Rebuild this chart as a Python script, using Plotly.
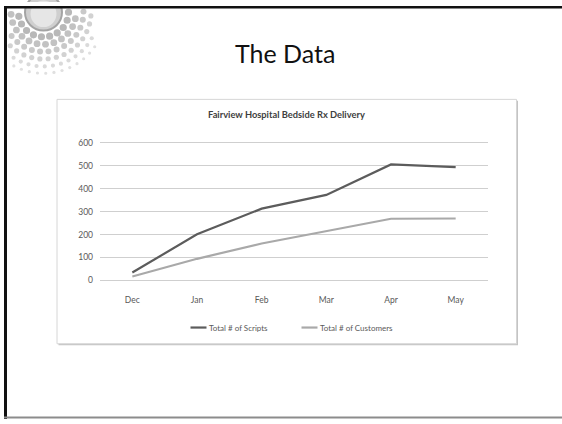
import math
import plotly.graph_objects as go

months = ["Dec", "Jan", "Feb", "Mar", "Apr", "May"]
scripts = [34, 201, 313, 373, 506, 494]
customers = [17, 94, 161, 216, 269, 270]
series_names = ["Total # of Scripts", "Total # of Customers"]
series_colors = ["#5c5c5c", "#a9a9a9"]
y_ticks = [0, 100, 200, 300, 400, 500, 600]

W, H = 562, 424
def px(x):
    return x / W
def py(y):
    return 1 - y / H

CHART_FONT = "Lato, Open Sans, sans-serif"

fig = go.Figure()
for vals, name, col in zip([scripts, customers], series_names, series_colors):
    fig.add_trace(go.Scatter(x=months, y=vals, mode="lines", name=name,
                             line=dict(color=col, width=2.2), showlegend=False))

shapes = []
# chart box shadow + box
shapes.append(dict(type="rect", xref="paper", yref="paper", layer="below",
                   x0=px(58.5), x1=px(518), y0=py(349), y1=py(100.5),
                   fillcolor="#c4c4c4", line=dict(width=0)))
shapes.append(dict(type="rect", xref="paper", yref="paper", layer="below",
                   x0=px(57), x1=px(516.5), y0=py(347.5), y1=py(99),
                   fillcolor="white", line=dict(color="#d6d6d6", width=1)))

# logo: big circle + dot rings
cx, cy = 43.5, 10.5
for i, (r, dr, col) in enumerate([(25, 3.6, "#b8b8b8"), (32.5, 3.4, "#c2c2c2"), (40, 3.0, "#c9c9c9"),
                                   (47.5, 2.6, "#d2d2d2"), (55, 2.1, "#dadada"), (62, 1.6, "#e0e0e0")]):
    n = int(2 * math.pi * r / 8.2)
    for k in range(n):
        a = 2 * math.pi * k / n + i * 0.2
        x = cx + r * math.cos(a)
        y = cy + r * math.sin(a)
        if x - dr < 7.5 or y - dr < 6.5 or x > 95:
            continue
        shapes.append(dict(type="circle", xref="paper", yref="paper", layer="below",
                           x0=px(x - dr), x1=px(x + dr), y0=py(y + dr), y1=py(y - dr),
                           fillcolor=col, line=dict(width=0)))
shapes.append(dict(type="circle", xref="paper", yref="paper", layer="below",
                   x0=px(cx - 18.5), x1=px(cx + 18.5), y0=py(cy + 18.5), y1=py(cy - 18.5),
                   fillcolor="#cfcfcf", line=dict(color="#a4a4a4", width=2)))
shapes.append(dict(type="circle", xref="paper", yref="paper", layer="below",
                   x0=px(cx - 13), x1=px(cx + 13), y0=py(cy + 15), y1=py(cy - 12),
                   fillcolor="#e6e6e6", line=dict(width=0)))
# white cover above top border for logo overflow
shapes.append(dict(type="rect", xref="paper", yref="paper", layer="below",
                   x0=0, x1=1, y0=py(5), y1=1, fillcolor="white", line=dict(width=0)))

# slide borders
shapes.append(dict(type="rect", xref="paper", yref="paper", x0=px(4), x1=1, y0=py(6.5), y1=py(4),
                   fillcolor="#111111", line=dict(width=0)))
shapes.append(dict(type="rect", xref="paper", yref="paper", x0=px(4), x1=px(7), y0=0, y1=py(4),
                   fillcolor="#111111", line=dict(width=0)))
shapes.append(dict(type="rect", xref="paper", yref="paper", x0=px(4), x1=1, y0=py(423.5), y1=py(421.5),
                   fillcolor="#8c8c8c", line=dict(width=0)))

annotations = []
# legend (manual)
leg = [(190.5, series_names[0], series_colors[0]), (301.5, series_names[1], series_colors[1])]
for x0, name, col in leg:
    shapes.append(dict(type="line", xref="paper", yref="paper", x0=px(x0), x1=px(x0 + 16),
                       y0=py(331), y1=py(331), line=dict(color=col, width=2.2)))
    annotations.append(dict(text=name, xref="paper", yref="paper", x=px(x0 + 16), y=py(331.5),
                            xanchor="left", yanchor="middle", showarrow=False,
                            font=dict(family=CHART_FONT, size=8, color="#595959")))

annotations.append(dict(text="The Data", xref="paper", yref="paper", x=px(285), y=py(52),
                        xanchor="center", yanchor="middle", showarrow=False,
                        font=dict(family="Lato, Open Sans, sans-serif", size=25, color="#111111")))
annotations.append(dict(text="<b>Fairview Hospital Bedside Rx Delivery</b>", xref="paper", yref="paper",
                        x=px(286.5), y=py(114.5), xanchor="center", yanchor="middle", showarrow=False,
                        font=dict(family=CHART_FONT, size=9.3, color="#404040")))

# axis geometry: 0 at y=283px, 600 at y=143.3px; extend range slightly so top gridline shows
y_top_val = 612
unit = (283 - 143.3) / 600
fig.update_layout(
    width=W, height=H, margin=dict(l=0, r=0, t=0, b=0),
    paper_bgcolor="white", plot_bgcolor="rgba(0,0,0,0)",
    shapes=shapes, annotations=annotations, showlegend=False,
    xaxis=dict(domain=[px(100), px(488)], type="category", range=[-0.5, 5.5],
               showgrid=False, zeroline=False, showline=False, ticks="",
               ticklabelstandoff=13, fixedrange=True,
               tickfont=dict(family=CHART_FONT, size=8.5, color="#595959")),
    yaxis=dict(domain=[py(283), py(283 - unit * y_top_val)], range=[0, y_top_val], tickvals=y_ticks,
               showgrid=True, gridcolor="#cfcfcf", gridwidth=1,
               zeroline=True, zerolinecolor="#cfcfcf", zerolinewidth=1,
               showline=False, ticks="", ticklabelstandoff=6, fixedrange=True,
               tickfont=dict(family=CHART_FONT, size=8.5, color="#595959")),
)

fig.write_html("out.html")
